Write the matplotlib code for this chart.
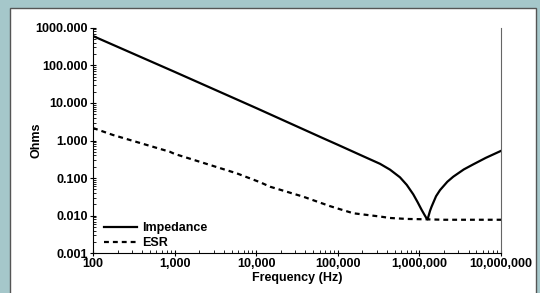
import matplotlib
matplotlib.use("Agg")
import matplotlib.pyplot as plt
from matplotlib.patches import Rectangle
from matplotlib.ticker import FixedLocator, LogLocator, NullFormatter

plt.rcParams['font.family'] = ['Liberation Sans', 'DejaVu Sans']
plt.rcParams['font.weight'] = 'bold'

# values
freq_z = [100, 1000, 10000, 66000, 100000, 200000, 329000, 436000, 578000,
          700000, 841000, 950000, 1067000, 1170000, 1220000, 1260000,
          1350000, 1410000, 1600000, 1790000, 2200000, 2600000, 3500000,
          4570000, 6500000, 10000000]
impedance = [600, 67, 7.3, 1.15, 0.77, 0.39, 0.24, 0.168, 0.105,
             0.066, 0.037, 0.023, 0.0142, 0.0100, 0.0086, 0.008,
             0.0135, 0.0174, 0.033, 0.048, 0.08, 0.109, 0.17,
             0.232, 0.345, 0.53]

freq_esr = [100, 176, 878, 1000, 5770, 11100, 14800, 37800, 80000, 100000,
            155000, 330000, 436000, 700000, 1260000, 2000000, 10000000]
esr = [2.15, 1.4, 0.50, 0.44, 0.134, 0.078, 0.059, 0.032, 0.018, 0.0155,
       0.0116, 0.0095, 0.0087, 0.0082, 0.008, 0.0078, 0.0078]

xticks = [100, 1000, 10000, 100000, 1000000, 10000000]
xlabels = ['100', '1,000', '10,000', '100,000', '1,000,000', '10,000,000']
yticks = [0.001, 0.01, 0.1, 1, 10, 100, 1000]
ylabels = ['0.001', '0.010', '0.100', '1.000', '10.000', '100.000', '1000.000']

fig = plt.figure(figsize=(5.4, 2.93), dpi=100)
fig.patch.set_facecolor('#a5c7ca')

# white panel behind the chart
bg = fig.add_axes([0, 0, 1, 1], zorder=-5)
bg.set_xlim(0, 540)
bg.set_ylim(293, 0)
bg.axis('off')
bg.add_patch(Rectangle((10, 8), 526, 300, facecolor='white',
                       edgecolor='#555555', linewidth=1.0))

ax = fig.add_axes([93 / 540, 1 - 253.3 / 293, 408 / 540, 225.6 / 293])
ax.set_facecolor('none')

ax.plot(freq_z, impedance, color='black', lw=1.6, label='Impedance')
ax.plot(freq_esr, esr, color='black', lw=1.6, dashes=(2.2, 1.8), label='ESR')

ax.set_xscale('log')
ax.set_yscale('log')
ax.set_xlim(100, 1e7)
ax.set_ylim(0.001, 1000)

ax.xaxis.set_major_locator(FixedLocator(xticks))
ax.set_xticklabels(xlabels)
ax.yaxis.set_major_locator(FixedLocator(yticks))
ax.set_yticklabels(ylabels)
ax.xaxis.set_minor_locator(LogLocator(base=10, subs=range(2, 10)))
ax.yaxis.set_minor_locator(LogLocator(base=10, subs=range(2, 10)))
ax.xaxis.set_minor_formatter(NullFormatter())
ax.yaxis.set_minor_formatter(NullFormatter())

ax.tick_params(which='major', direction='inout', length=4, width=0.8,
               labelsize=9, pad=1.5)
ax.tick_params(which='minor', direction='in', length=2.2, width=0.6)
for lab in ax.get_xticklabels() + ax.get_yticklabels():
    lab.set_fontweight('bold')

ax.spines['top'].set_visible(False)
ax.spines['right'].set_color('#666666')
ax.spines['right'].set_linewidth(0.8)
ax.spines['left'].set_linewidth(0.8)
ax.spines['bottom'].set_linewidth(0.8)

ax.set_xlabel('Frequency (Hz)', fontsize=9, fontweight='bold', labelpad=1)
ax.set_ylabel('Ohms', fontsize=9, fontweight='bold')
ax.yaxis.set_label_coords(-0.125, 0.5)

ax.legend(loc='lower left', bbox_to_anchor=(0.0, -0.033), frameon=False,
          handlelength=2.6, handletextpad=0.4, labelspacing=0.25,
          prop={'weight': 'bold', 'size': 9})

fig.savefig('out.png', dpi=100, facecolor=fig.get_facecolor())
